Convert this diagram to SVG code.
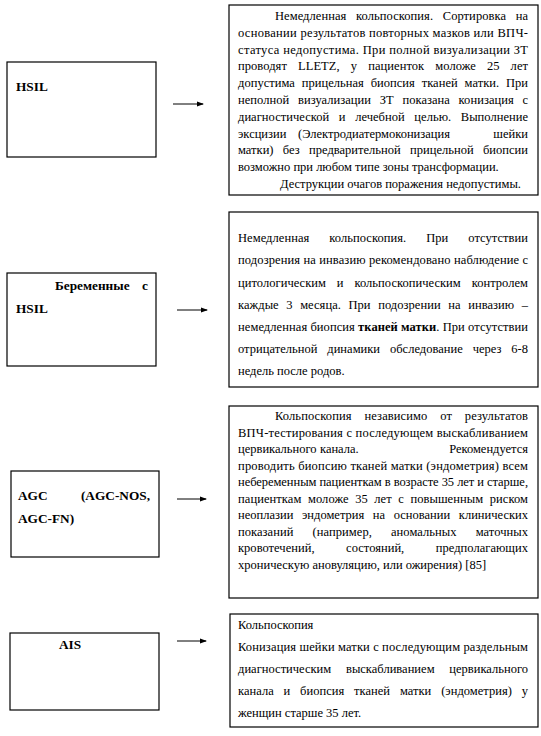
<svg xmlns="http://www.w3.org/2000/svg" width="541" height="736" viewBox="0 0 541 736">
<style>
.box{fill:#fff;stroke:#000;stroke-width:1.2}
.t{font-size:12.5px;fill:#000}
.lb{font-size:13.3px;font-weight:bold;fill:#000}
.b{font-weight:bold}
.arr{stroke:#000;stroke-width:1;fill:none}
</style>
<defs>
<marker id="ah" markerWidth="7" markerHeight="6" refX="6" refY="3" orient="auto" markerUnits="userSpaceOnUse">
<path d="M0,0.5 L7,3 L0,5.5 Z" fill="#000"/>
</marker>
</defs>
<rect width="541" height="736" fill="#fff"/>
<g font-family="Liberation Serif">
<g id="n-hsil">
<rect class="box" x="7" y="62" width="149" height="95"/>
<text class="lb" x="16" y="91">HSIL</text>
</g>
<g id="n-hsil-action">
<rect class="box" x="229" y="5" width="309" height="190"/>
<text class="t" x="275" y="20" word-spacing="6.5" textLength="253" lengthAdjust="spacing">Немедленная кольпоскопия. Сортировка на</text>
<text class="t" x="238" y="36.8" textLength="290" lengthAdjust="spacing">основании результатов повторных мазков или ВПЧ-</text>
<text class="t" x="238" y="53.6" textLength="290" lengthAdjust="spacing">статуса недопустима. При полной визуализации ЗТ</text>
<text class="t" x="238" y="70.4" word-spacing="7.9" textLength="290" lengthAdjust="spacing">проводят LLETZ, у пациенток моложе 25 лет</text>
<text class="t" x="238" y="87.2" word-spacing="3.7" textLength="290" lengthAdjust="spacing">допустима прицельная биопсия тканей матки. При</text>
<text class="t" x="238" y="104" word-spacing="5.5" textLength="290" lengthAdjust="spacing">неполной визуализации ЗТ показана конизация с</text>
<text class="t" x="238" y="120.8" word-spacing="6.5" textLength="290" lengthAdjust="spacing">диагностической и лечебной целью. Выполнение</text>
<text class="t" y="137.6"><tspan x="238">эксцизии</tspan><tspan x="298">(Электродиатермоконизация</tspan><tspan x="528" text-anchor="end">шейки</tspan></text>
<text class="t" x="238" y="154.4" word-spacing="6.2" textLength="290" lengthAdjust="spacing">матки) без предварительной прицельной биопсии</text>
<text class="t" x="238" y="171.2">возможно при любом типе зоны трансформации.</text>
<text class="t" x="280" y="188">Деструкции очагов поражения недопустимы.</text>
</g>

<g id="n-preg">
<rect class="box" x="7" y="273" width="149" height="93"/>
<text class="lb" y="290"><tspan x="55">Беременные</tspan><tspan x="148" text-anchor="end">с</tspan></text>
<text class="lb" x="16" y="313">HSIL</text>
</g>
<g id="n-preg-action">
<rect class="box" x="229" y="212" width="309" height="175"/>
<text class="t" x="238" y="242" word-spacing="16.8" textLength="290" lengthAdjust="spacing">Немедленная кольпоскопия. При отсутствии</text>
<text class="t" x="238" y="264" textLength="290" lengthAdjust="spacing">подозрения на инвазию рекомендовано наблюдение с</text>
<text class="t" x="238" y="286.5" word-spacing="7.7" textLength="290" lengthAdjust="spacing">цитологическим и кольпоскопическим контролем</text>
<text class="t" x="238" y="309" word-spacing="4.4" textLength="290" lengthAdjust="spacing">каждые 3 месяца. При подозрении на инвазию –</text>
<text class="t" x="238" y="331" textLength="290" lengthAdjust="spacing">немедленная биопсия <tspan class="b">тканей матки</tspan>. При отсутствии</text>
<text class="t" x="238" y="353" word-spacing="6.7" textLength="290" lengthAdjust="spacing">отрицательной динамики обследование через 6-8</text>
<text class="t" x="238" y="375">недель после родов.</text>
</g>

<g id="n-agc">
<rect class="box" x="11" y="471" width="148" height="86"/>
<text class="lb" y="500"><tspan x="18">AGC</tspan><tspan x="150" text-anchor="end">(AGC-NOS,</tspan></text>
<text class="lb" x="18" y="523">AGC-FN)</text>
</g>
<g id="n-agc-action">
<rect class="box" x="229" y="406" width="309" height="192"/>
<text class="t" x="275" y="420" word-spacing="9.6" textLength="253" lengthAdjust="spacing">Кольпоскопия независимо от результатов</text>
<text class="t" x="238" y="436.5" textLength="290" lengthAdjust="spacing">ВПЧ-тестирования с последующем выскабливанием</text>
<text class="t" y="453"><tspan x="238">цервикального</tspan><tspan x="320">канала.</tspan><tspan x="528" text-anchor="end">Рекомендуется</tspan></text>
<text class="t" x="238" y="469.5" textLength="290" lengthAdjust="spacing">проводить биопсию тканей матки (эндометрия) всем</text>
<text class="t" x="238" y="486" textLength="290" lengthAdjust="spacing">небеременным пациенткам в возрасте 35 лет и старше,</text>
<text class="t" x="238" y="502.5" word-spacing="3.3" textLength="290" lengthAdjust="spacing">пациенткам моложе 35 лет с повышенным риском</text>
<text class="t" x="238" y="519" word-spacing="5.5" textLength="290" lengthAdjust="spacing">неоплазии эндометрия на основании клинических</text>
<text class="t" x="238" y="535.5" word-spacing="15.9" textLength="290" lengthAdjust="spacing">показаний (например, аномальных маточных</text>
<text class="t" x="238" y="552" word-spacing="28.4" textLength="290" lengthAdjust="spacing">кровотечений, состояний, предполагающих</text>
<text class="t" x="238" y="568.5">хроническую ановуляцию, или ожирения) [85]</text>
</g>

<g id="n-ais">
<rect class="box" x="10" y="633" width="149" height="77"/>
<text class="lb" x="59" y="649">AIS</text>
</g>
<g id="n-ais-action">
<rect class="box" x="230" y="614" width="308" height="113"/>
<text class="t" x="238" y="629">Кольпоскопия</text>
<text class="t" x="238" y="651" textLength="290" lengthAdjust="spacing">Конизация шейки матки с последующим раздельным</text>
<text class="t" x="238" y="673" word-spacing="11.6" textLength="290" lengthAdjust="spacing">диагностическим выскабливанием цервикального</text>
<text class="t" x="238" y="695" word-spacing="6.7" textLength="290" lengthAdjust="spacing">канала и биопсия тканей матки (эндометрия) у</text>
<text class="t" x="238" y="717">женщин старше 35 лет.</text>
</g>
</g>
<g id="connectors">
<line class="arr" x1="173" y1="104" x2="203" y2="104" marker-end="url(#ah)"/>
<line class="arr" x1="177" y1="310" x2="207" y2="310" marker-end="url(#ah)"/>
<line class="arr" x1="177" y1="499" x2="206" y2="499" marker-end="url(#ah)"/>
<line class="arr" x1="177" y1="641" x2="206" y2="641" marker-end="url(#ah)"/>
</g>
</svg>
